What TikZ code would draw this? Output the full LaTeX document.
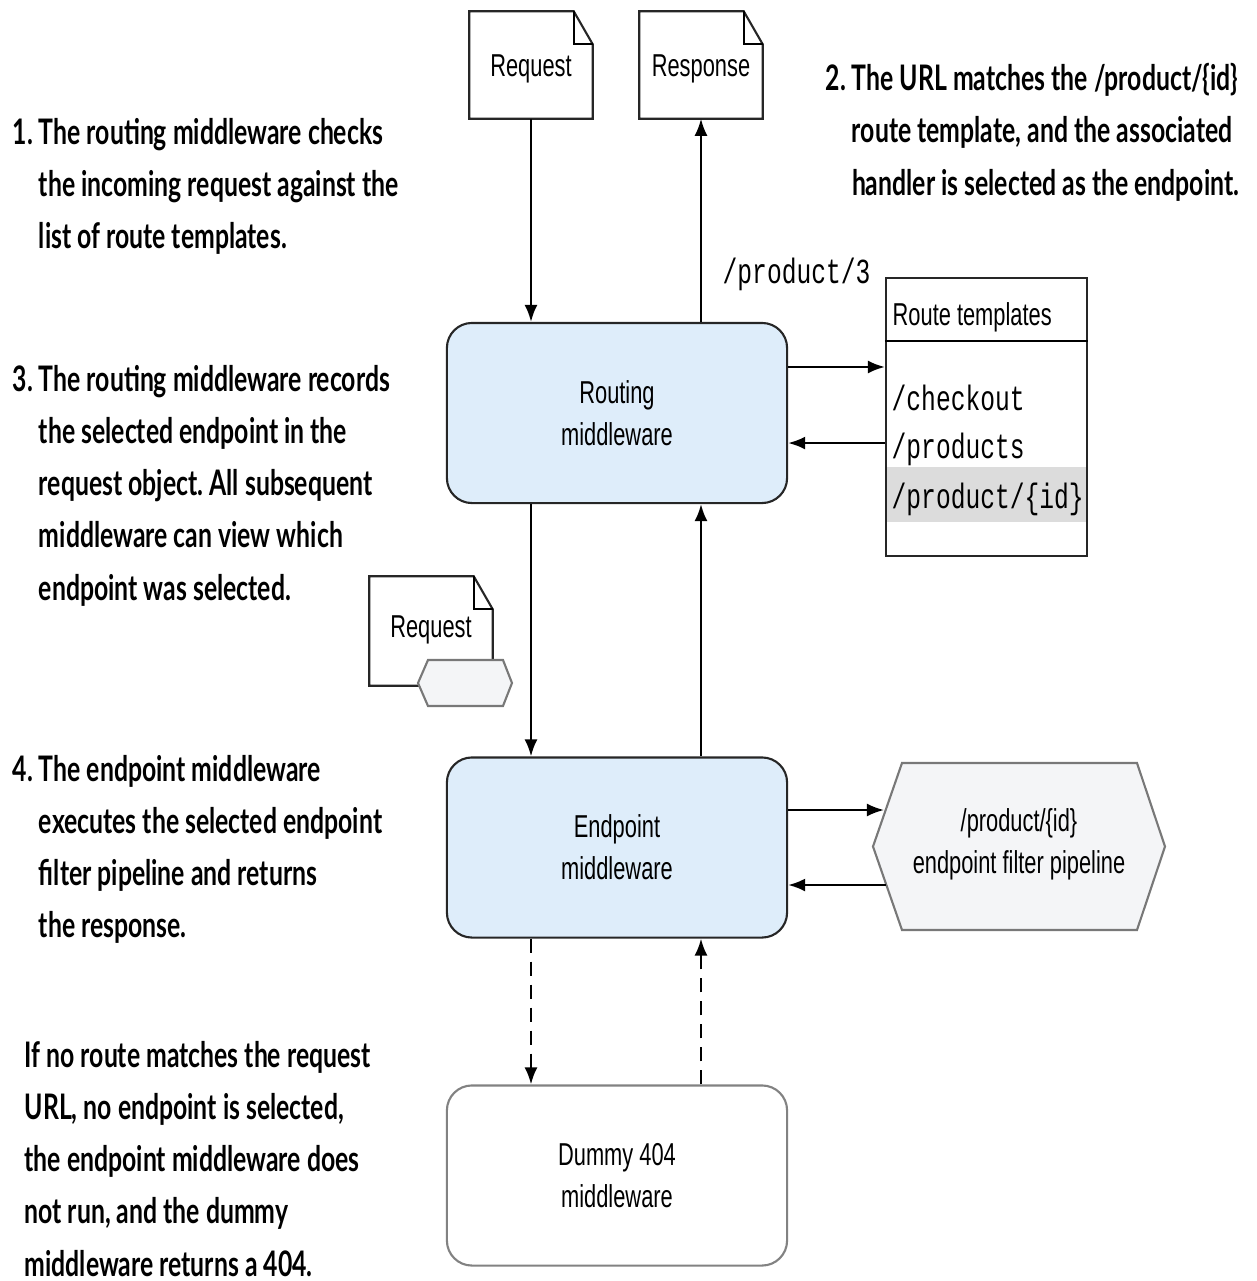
\documentclass[tikz,border=0pt]{standalone}
\usepackage{fontspec}
\setmainfont{Liberation Sans}
\newfontfamily\labelfont{Liberation Sans}[FakeStretch=0.69]
\newfontfamily\annfont{Lato}[FakeStretch=0.705]
\newfontfamily\codefont{Liberation Mono}[FakeStretch=0.7]
\usetikzlibrary{arrows.meta}
\definecolor{boxblue}{RGB}{222,237,250}
\definecolor{hexfill}{RGB}{244,245,247}
\definecolor{hexline}{RGB}{120,120,120}
\definecolor{hlgray}{RGB}{220,220,220}
\definecolor{dummyline}{RGB}{130,130,130}
\frenchspacing
\begin{document}
\begin{tikzpicture}[x=0.01cm,y=-0.01cm,
  lbl/.style={font=\labelfont\fontsize{9}{12}\selectfont, align=center},
  mw/.style={lbl, draw=black!85, line width=0.6pt, rounded corners=0.25cm, fill=boxblue,
    minimum width=3.4cm, minimum height=1.8cm},
  dummybox/.style={mw, draw=dummyline, fill=white},
  docnode/.style={lbl, minimum width=1.22cm, minimum height=1.06cm, inner sep=0},
  docline/.style={line width=0.6pt, draw=black!85, fill=white},
  hexstyle/.style={line width=0.6pt, draw=hexline, fill=hexfill},
  arr/.style={-{Latex[length=0.17cm,width=0.13cm]}, line width=0.65pt},
  dsh/.style={arr, dash pattern=on 0.14cm off 0.09cm},
  ann/.style={anchor=north west, inner sep=0, align=left,
    font=\annfont\bfseries\fontsize{10}{14.8}\selectfont},
  code/.style={anchor=base west, inner sep=0, font=\codefont\fontsize{10}{12}\selectfont}
]
\useasboundingbox (0,0) rectangle (1257,1281);

% documents at top
\node[docnode] (req1) at (531,65) {};
\draw[docline] (req1.north west) -- ([xshift=-0.19cm]req1.north east) -- ([yshift=-0.33cm]req1.north east) -- (req1.south east) -- (req1.south west) -- cycle;
\draw[line width=0.6pt] ([xshift=-0.19cm]req1.north east) |- ([yshift=-0.33cm]req1.north east);
\node[lbl] at ([yshift=-0.04cm]req1) {Request};

\node[docnode] (resp) at (701,65) {};
\draw[docline] (resp.north west) -- ([xshift=-0.19cm]resp.north east) -- ([yshift=-0.33cm]resp.north east) -- (resp.south east) -- (resp.south west) -- cycle;
\draw[line width=0.6pt] ([xshift=-0.19cm]resp.north east) |- ([yshift=-0.33cm]resp.north east);
\node[lbl] at ([yshift=-0.04cm]resp) {Response};

% middleware boxes
\node[mw] (routing) at (617,413) {Routing\\middleware};
\node[mw] (endpoint) at (617,847.5) {Endpoint\\middleware};
\node[dummybox] (dummy) at (617,1175.5) {Dummy 404\\middleware};

% route templates
\node[draw=black!85, line width=0.6pt, minimum width=2.01cm, minimum height=2.78cm, inner sep=0] (tmpl) at (986.5,417) {};
\fill[hlgray] (887,467) rectangle (1086,522);
\draw[line width=0.6pt] ([yshift=-0.64cm]tmpl.north west) -- ([yshift=-0.64cm]tmpl.north east);
\node[lbl, anchor=base west, inner sep=0] (tmplhead) at (892,325) {Route templates};
\node[code] (r1) at (891,410) {/checkout};
\node[code] (r2) at (891,458) {/products};
\node[code] (r3) at (891,508) {/product/\{id\}};
\node[code] (url) at (722,283) {/product/3};

% second request document with endpoint tag
\node[docnode, minimum height=1.08cm] (req2) at (431,631) {};
\draw[docline] (req2.north west) -- ([xshift=-0.19cm]req2.north east) -- ([yshift=-0.33cm]req2.north east) -- (req2.south east) -- (req2.south west) -- cycle;
\draw[line width=0.6pt] ([xshift=-0.19cm]req2.north east) |- ([yshift=-0.33cm]req2.north east);
\node[lbl] at ([yshift=0.01cm]req2) {Request};
\draw[hexstyle] (418,683) -- (428,660) -- (503,660) -- (512,683) -- (503,706) -- (428,706) -- cycle;

% endpoint filter pipeline
\draw[hexstyle] (873,846.5) -- (902,763) -- (1137,763) -- (1165,846.5) -- (1137,930) -- (902,930) -- cycle;
\node[lbl, align=center] (pipe) at (1019,844) {/product/\{id\}\\endpoint filter pipeline};
\coordinate (pin) at (884,810);
\coordinate (pout) at (886,885);

% connectors
\draw[arr] (req1.south) -- (req1.south |- routing.north);
\draw[arr] (resp.south |- routing.north) -- (resp.south);
\draw[arr] (req1.south |- routing.south) -- (req1.south |- endpoint.north);
\draw[arr] (resp.south |- endpoint.north) -- (resp.south |- routing.south);
\draw[dsh] (req1.south |- endpoint.south) -- (req1.south |- dummy.north);
\draw[dsh] (resp.south |- dummy.north) -- (resp.south |- endpoint.south);
\draw[arr] ([yshift=0.46cm]routing.east) -- ([yshift=0.46cm]routing.east -| tmpl.west);
\draw[arr] ([yshift=-0.30cm]routing.east -| tmpl.west) -- ([yshift=-0.30cm]routing.east);
\draw[arr] (endpoint.east |- pin) -- (pin);
\draw[arr] (pout) -- (endpoint.east |- pout);

% annotations
\node[ann] (a1) at (12,118) {1. The routing middleware checks\\\phantom{1. }the incoming request against the\\\phantom{1. }list of route templates.};
\node[ann] (a2) at (825,63) {2. The URL matches the /product/\{id\}\\\phantom{2. }route template, and the associated\\\phantom{2. }handler is selected as the endpoint.};
\node[ann] (a3) at (12,365) {3. The routing middleware records\\\phantom{3. }the selected endpoint in the\\\phantom{3. }request object. All subsequent\\\phantom{3. }middleware can view which\\\phantom{3. }endpoint was selected.};
\node[ann] (a4) at (12,755) {4. The endpoint middleware\\\phantom{4. }executes the selected endpoint\\\phantom{4. }filter pipeline and returns\\\phantom{4. }the response.};
\node[ann] (a5) at (24,1041) {If no route matches the request\\URL, no endpoint is selected,\\the endpoint middleware does\\not run, and the dummy\\middleware returns a 404.};
\end{tikzpicture}
\end{document}
